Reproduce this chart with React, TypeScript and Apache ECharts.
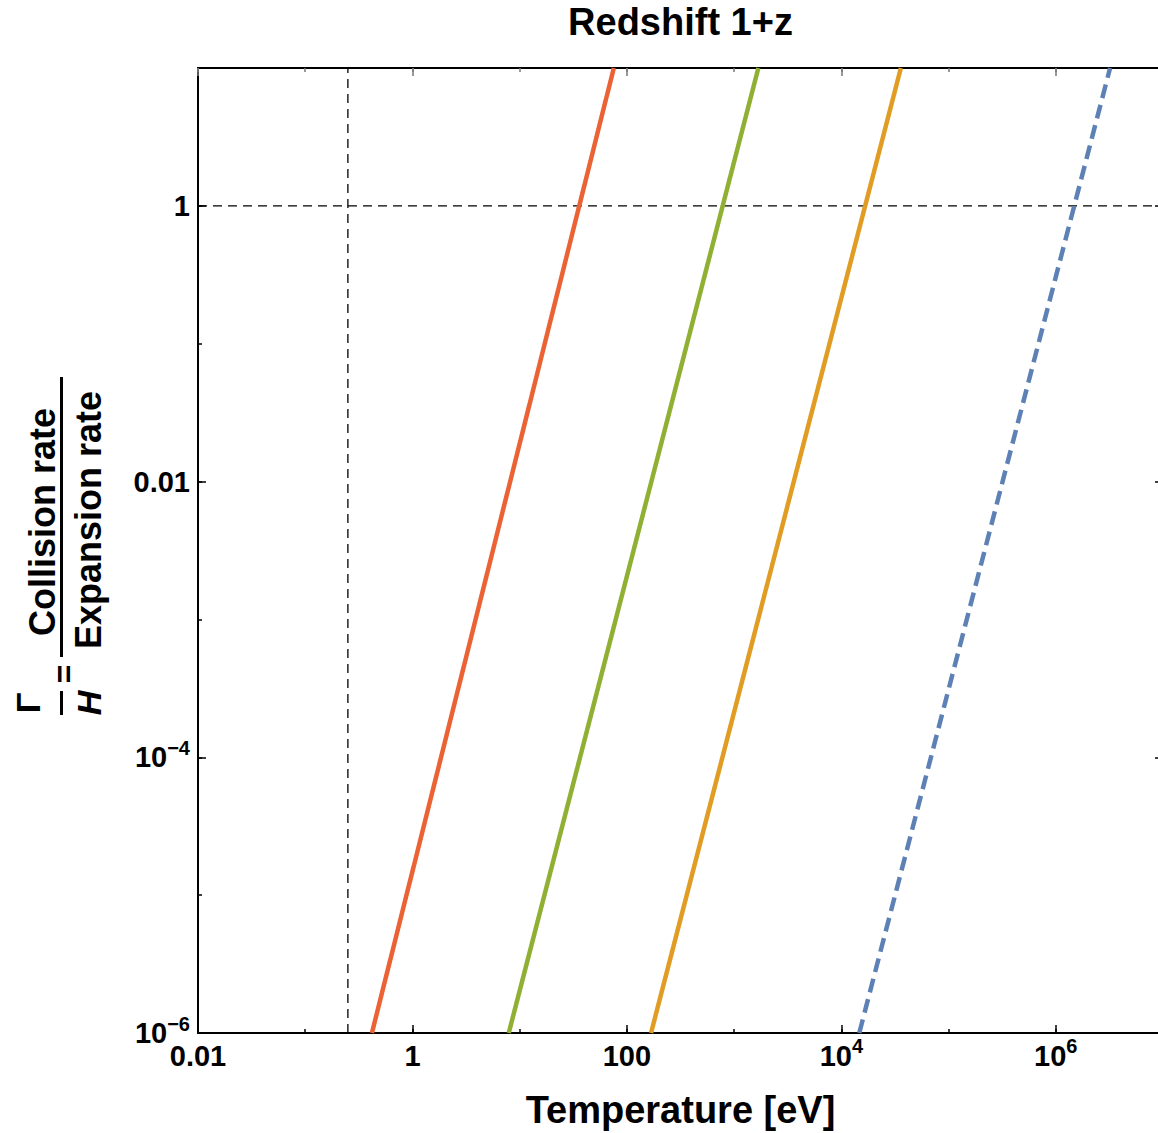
import React, { useEffect, useRef } from "react";
import * as echarts from "echarts";

// ---- data ----
const rateEnds = [1e-6, 10]; // Γ/H at the bottom and top of the frame
const redT = [0.419, 75.5];
const greenT = [7.91, 1683];
const orangeT = [168, 35900];
const blueT = [14700, 3.21e6];
const refTemperature = 0.25; // vertical dashed line [eV]
const refRatio = 1; // horizontal dashed line

const xRange = [0.01, 1e7];
const yRange = [1e-6, 10];
const xTickExps = [-2, 0, 2, 4, 6];
const xTickLabels = ["0.01", "1", "100", "10^4", "10^6"];
const yTickExps = [-6, -4, -2, 0];
const yTickLabels = ["10^−6", "10^−4", "0.01", "1"];

const lg = (v: number) => Math.log10(v);

function labelFormatter(exps: number[], labels: string[]) {
  return (v: number) => {
    const i = exps.findIndex((e) => Math.abs(e - v) < 1e-6);
    if (i < 0) return "";
    const s = labels[i];
    if (s.indexOf("^") >= 0) {
      const [b, p] = s.split("^");
      return `{b|${b}}{s|${p}}`;
    }
    return s;
  };
}

const FONT = '"Liberation Sans", Arial, Helvetica, sans-serif';

export default function App() {
  const ref = useRef<HTMLDivElement>(null);
  useEffect(() => {
    if (!ref.current) return;
    const chart = echarts.init(ref.current, null, { renderer: "svg" });

    const rich = {
      b: { fontSize: 29, fontWeight: "bold", fontFamily: FONT, lineHeight: 29, verticalAlign: "bottom", color: "#000" },
      s: { fontSize: 20, fontWeight: "bold", fontFamily: FONT, lineHeight: 20, verticalAlign: "bottom", padding: [0, 0, 14, 0], color: "#000" },
    };

    const baseAxis = {
      type: "value",
      splitLine: { show: false },
      axisLine: { show: true, onZero: false, lineStyle: { color: "#000", width: 2 } },
    };

    const xMin = lg(xRange[0]);
    const xMax = lg(xRange[1]);
    const yMin = lg(yRange[0]);
    const yMax = lg(yRange[1]);

    const labelBase = {
      show: true,
      margin: 8,
      fontSize: 29,
      fontWeight: "bold",
      fontFamily: FONT,
      color: "#000",
      showMaxLabel: false,
      rich,
    };

    const mkX = (position: string, interval: number, len: number, color: string, label: boolean, extra: any = {}) => ({
      ...baseAxis,
      position,
      min: xMin,
      max: xMax,
      interval,
      axisTick: { show: true, inside: true, length: len, lineStyle: { color, width: 1.5 } },
      axisLabel: label ? { ...labelBase, formatter: labelFormatter(xTickExps, xTickLabels) } : { show: false },
      ...extra,
    });
    const mkY = (position: string, interval: number, len: number, color: string, label: boolean) => ({
      ...baseAxis,
      position,
      min: yMin,
      max: yMax,
      interval,
      axisTick: { show: true, inside: true, length: len, lineStyle: { color, width: 1.5 } },
      axisLabel: label ? { ...labelBase, formatter: labelFormatter(yTickExps, yTickLabels) } : { show: false },
    });

    const line = (T: number[], color: string, dashed = false) => ({
      type: "line",
      xAxisIndex: 0,
      yAxisIndex: 0,
      showSymbol: false,
      symbol: "none",
      silent: true,
      clip: true,
      data: T.map((t, i) => [lg(t), lg(rateEnds[i])]),
      lineStyle: { color, width: 4.5, type: dashed ? [14, 7] : "solid", cap: "butt" },
      z: 3,
    });

    const refStyle = { color: "#000", width: 1.3, type: [9, 6] };

    const textStyle = (text: string, size: number, italic = false) => ({
      text,
      font: `${italic ? "italic " : ""}bold ${size}px ${FONT}`,
      fill: "#000",
      align: "center",
      verticalAlign: "middle",
      textAlign: "center",
      textVerticalAlign: "middle",
    });

    chart.setOption({
      animation: false,
      backgroundColor: "#fff",
      grid: { left: 198, top: 68, width: 965, height: 965, containLabel: false, outerBoundsMode: "none" },
      xAxis: [
        mkX("bottom", 2, 8, "#000", true, {
          name: "Temperature [eV]",
          nameLocation: "middle",
          nameGap: 58,
          nameTextStyle: { fontSize: 38, fontWeight: "bold", fontFamily: FONT, color: "#000" },
        }),
        mkX("bottom", 1, 4, "#000", false),
        mkX("top", 2, 8, "#777", false, {
          name: "Redshift 1+z",
          nameLocation: "middle",
          nameGap: 27,
          nameTextStyle: { fontSize: 38, fontWeight: "bold", fontFamily: FONT, color: "#000" },
        }),
        mkX("top", 1, 4, "#777", false),
      ],
      yAxis: [
        mkY("left", 2, 8, "#000", true),
        mkY("left", 1, 4, "#000", false),
        mkY("right", 2, 8, "#000", false),
        mkY("right", 1, 4, "#000", false),
      ],
      series: [
        {
          type: "line",
          showSymbol: false,
          symbol: "none",
          silent: true,
          data: [
            [lg(refTemperature), yMin],
            [lg(refTemperature), yMax],
          ],
          lineStyle: refStyle,
          z: 2,
        },
        {
          type: "line",
          showSymbol: false,
          symbol: "none",
          silent: true,
          data: [
            [xMin, lg(refRatio)],
            [xMax, lg(refRatio)],
          ],
          lineStyle: refStyle,
          z: 2,
        },
        line(redT, "#EB6235"),
        line(greenT, "#8FB032"),
        line(orangeT, "#E19C24"),
        line(blueT, "#5E81B5", true),
      ],
      graphic: [
        { type: "text", x: 42, y: 522, rotation: Math.PI / 2, style: textStyle("Collision rate", 36) },
        { type: "rect", shape: { x: 60, y: 377, width: 3, height: 280 }, style: { fill: "#000" } },
        { type: "text", x: 88, y: 520, rotation: Math.PI / 2, style: textStyle("Expansion rate", 36) },
        { type: "text", x: 64, y: 674, rotation: Math.PI / 2, style: textStyle("=", 32) },
        { type: "text", x: 28, y: 703, rotation: Math.PI / 2, style: textStyle("Γ", 34) },
        { type: "rect", shape: { x: 60, y: 691, width: 3, height: 24 }, style: { fill: "#000" } },
        { type: "text", x: 89, y: 703, rotation: Math.PI / 2, style: textStyle("H", 34, true) },
      ],
    });
    return () => chart.dispose();
  }, []);
  return (
    <div
      ref={ref}
      style={{ position: "fixed", left: 0, top: 0, width: 1158, height: 1133, overflow: "hidden", background: "#fff" }}
    />
  );
}
